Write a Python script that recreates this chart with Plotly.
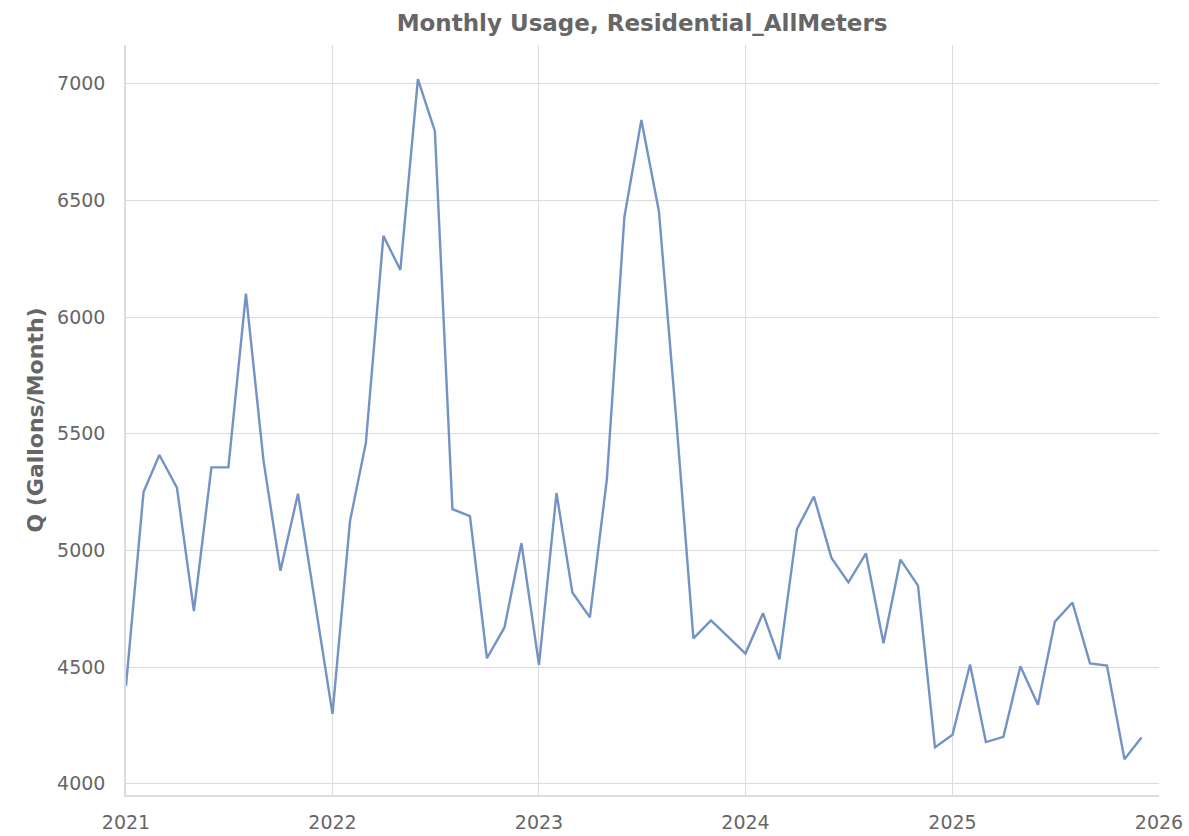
import plotly.graph_objects as go
import pandas as pd

months = pd.date_range("2021-01-01", "2025-12-01", freq="MS").strftime("%Y-%m-%d").tolist()

usage = [
    4420, 5250, 5409, 5269, 4740, 5356, 5356, 6101, 5386, 4913, 5243, 4775,
    4300, 5126, 5461, 6348, 6202, 7020, 6797, 5177, 5147, 4538, 4670, 5031,
    4510, 5246, 4820, 4713, 5305, 6429, 6845, 6454, 5551, 4623, 4700, 4631,
    4558, 4731, 4533, 5091, 5231, 4968, 4863, 4987, 4602, 4961, 4849, 4156,
    4210, 4511, 4179, 4201, 4504, 4339, 4695, 4777, 4516, 4507, 4105, 4198,
]

x_ticks = ["2021-01-01", "2022-01-01", "2023-01-01", "2024-01-01", "2025-01-01", "2026-01-01"]
x_tick_labels = ["2021", "2022", "2023", "2024", "2025", "2026"]
y_ticks = [4000, 4500, 5000, 5500, 6000, 6500, 7000]

title_text = "Monthly Usage, Residential_AllMeters"
y_title = "Q (Gallons/Month)"

fig = go.Figure()
fig.add_trace(go.Scatter(
    x=months, y=usage, mode="lines",
    line=dict(color="#7393c4", width=2.4),
    showlegend=False,
))

grid = "#dcdcdc"
font_col = "#666666"
fig.update_layout(
    width=1189, height=836,
    paper_bgcolor="white", plot_bgcolor="#fefefe",
    margin=dict(l=126, r=30, t=45, b=41, autoexpand=False),
    font=dict(family="DejaVu Sans", color=font_col, size=19),
    title=dict(text="<b>" + title_text + "</b>", x=0.540, xanchor="center",
               y=0.9725, yanchor="middle",
               font=dict(size=23, color=font_col, family="DejaVu Sans")),
    xaxis=dict(
        range=["2021-01-01", "2026-01-01"],
        tickvals=x_ticks, ticktext=x_tick_labels,
        showgrid=True, gridcolor=grid, gridwidth=1.2,
        showline=True, linecolor=grid, linewidth=1.5,
        ticks="", ticklabelstandoff=9,
        tickfont=dict(size=19, color=font_col),
        zeroline=False, automargin=False,
    ),
    yaxis=dict(
        range=[3952, 7166],
        tickvals=y_ticks,
        showgrid=True, gridcolor=grid, gridwidth=1.2,
        showline=True, linecolor=grid, linewidth=1.5,
        ticks="", ticklabelstandoff=15,
        tickfont=dict(size=19, color=font_col),
        title=dict(text="<b>" + y_title + "</b>", standoff=7,
                   font=dict(size=22, color=font_col)),
        zeroline=False, automargin=False,
    ),
)

fig.write_html(
    "out.html",
    config={"displayModeBar": False},
    post_script="document.body.style.margin='0';document.body.style.overflow='hidden';",
)
